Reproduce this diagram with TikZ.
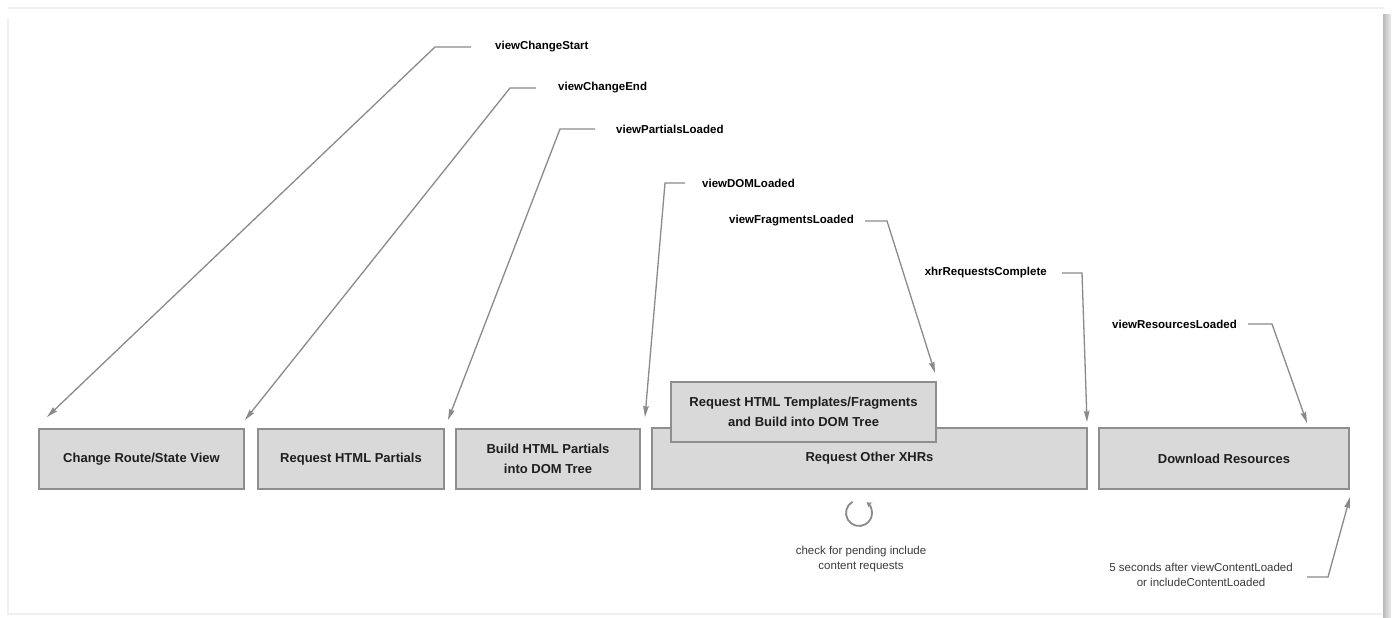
\documentclass[tikz,border=0pt]{standalone}
\usepackage{fontspec}
\setmainfont{Liberation Sans}
\usetikzlibrary{arrows.meta}
\definecolor{boxfill}{HTML}{D9D9D9}
\definecolor{boxline}{HTML}{8E8E8E}
\definecolor{connc}{HTML}{8A8A8A}
\definecolor{txt}{HTML}{1E1E1E}
\definecolor{notec}{HTML}{3A3A3A}
\tikzset{
  stagebox/.style={draw=boxline, fill=boxfill, line width=2pt, inner sep=0pt,
    anchor=north west, align=center, text=txt,
    font=\bfseries\fontsize{13}{19.5}\selectfont},
  evlabel/.style={inner sep=0pt, text=black, font=\bfseries\fontsize{11.5}{14}\selectfont},
  notetext/.style={inner sep=0pt, text=notec, align=center, font=\fontsize{11.5}{14.5}\selectfont},
  conn/.style={draw=connc, line width=1.3pt, -{Stealth[length=11pt,width=5.5pt,inset=1pt]}},
}
\begin{document}
\begin{tikzpicture}[x=1pt,y=-1pt]
\useasboundingbox (0,0) rectangle (1394,618);
% frame
\fill[white] (0,0) rectangle (1394,618);
\draw[gray!12, line width=1.5pt] (8,8) -- (1384,8);
\draw[gray!12, line width=1.5pt] (8,18) -- (8,614) -- (1384,614);
\shade[left color=gray!55, right color=gray!15] (1383,15) rectangle (1391,618);

% stage boxes
\node[stagebox, minimum width=205pt, minimum height=60pt] (b1) at (38,428) {Change Route/State View};
\node[stagebox, minimum width=186pt, minimum height=60pt] (b2) at (257,428) {Request HTML Partials};
\node[stagebox, minimum width=184pt, minimum height=60pt] (b3) at (455,428) {Build HTML Partials\\into DOM Tree};
\node[stagebox, minimum width=435pt, minimum height=61pt] (b4) at (651,427) {Request Other XHRs};
\node[stagebox, minimum width=265pt, minimum height=60pt] (ov) at (670,381) {Request HTML Templates/Fragments\\and Build into DOM Tree};
\node[stagebox, minimum width=250pt, minimum height=61pt] (b5) at (1098,427) {Download Resources};

% event labels
\node[evlabel, anchor=west] (l1) at (495,47) {viewChangeStart};
\node[evlabel, anchor=west] (l2) at (558,88) {viewChangeEnd};
\node[evlabel, anchor=west] (l3) at (616,129) {viewPartialsLoaded};
\node[evlabel, anchor=west] (l4) at (702,183) {viewDOMLoaded};
\node[evlabel, anchor=east] (l5) at (854,221) {viewFragmentsLoaded};
\node[evlabel, anchor=east] (l6) at (1047,273) {xhrRequestsComplete};
\node[evlabel, anchor=east] (l7) at (1237,324) {viewResourcesLoaded};

% notes
\node[notetext] (n1) at (861,559) {check for pending include\\content requests};
\node[notetext, anchor=east] (n2) at (1293,575) {5 seconds after viewContentLoaded\\or includeContentLoaded};

% corner coordinates
\coordinate (c1) at (435,47);
\coordinate (c2) at (510,88);
\coordinate (c3) at (560,129);
\coordinate (c4) at (665,183);
\coordinate (c5) at (887,221);
\coordinate (c6) at (1082,273);
\coordinate (c7) at (1272,324);
\coordinate (c8) at (1328,577);

% connectors
\draw[conn] ([xshift=-24pt]l1.west) -- (c1) -- ([xshift=9pt,yshift=11pt]b1.north west);
\draw[conn] ([xshift=-22pt]l2.west) -- (c2) -- ([yshift=8pt]b1.north east);
\draw[conn] ([xshift=-21pt]l3.west) -- (c3) -- ([xshift=3pt,yshift=8pt]b2.north east);
\draw[conn] ([xshift=-17pt]l4.west) -- (c4) -- ([xshift=4pt,yshift=11pt]b3.north east);
\draw[conn] ([xshift=11pt]l5.east) -- (c5) -- ([xshift=-2pt,yshift=8pt]ov.north east);
\draw[conn] ([xshift=15pt]l6.east) -- (c6) -- ([xshift=-1pt,yshift=5pt]b4.north east);
\draw[conn] ([xshift=11pt]l7.east) -- (c7) -- ([xshift=-43pt,yshift=4pt]b5.north east);
\draw[conn] ([xshift=14pt]n2.east |- c8) -- (c8) -- ([yshift=-7pt]b5.south east);

% loop symbol
\coordinate (lp) at (859,513);
\draw[draw=connc, line width=1.8pt, -{Stealth[length=5pt,width=6pt]}]
  ([shift={(120:13pt)}]lp) arc[start angle=120, end angle=415, radius=13pt];
\end{tikzpicture}
\end{document}
